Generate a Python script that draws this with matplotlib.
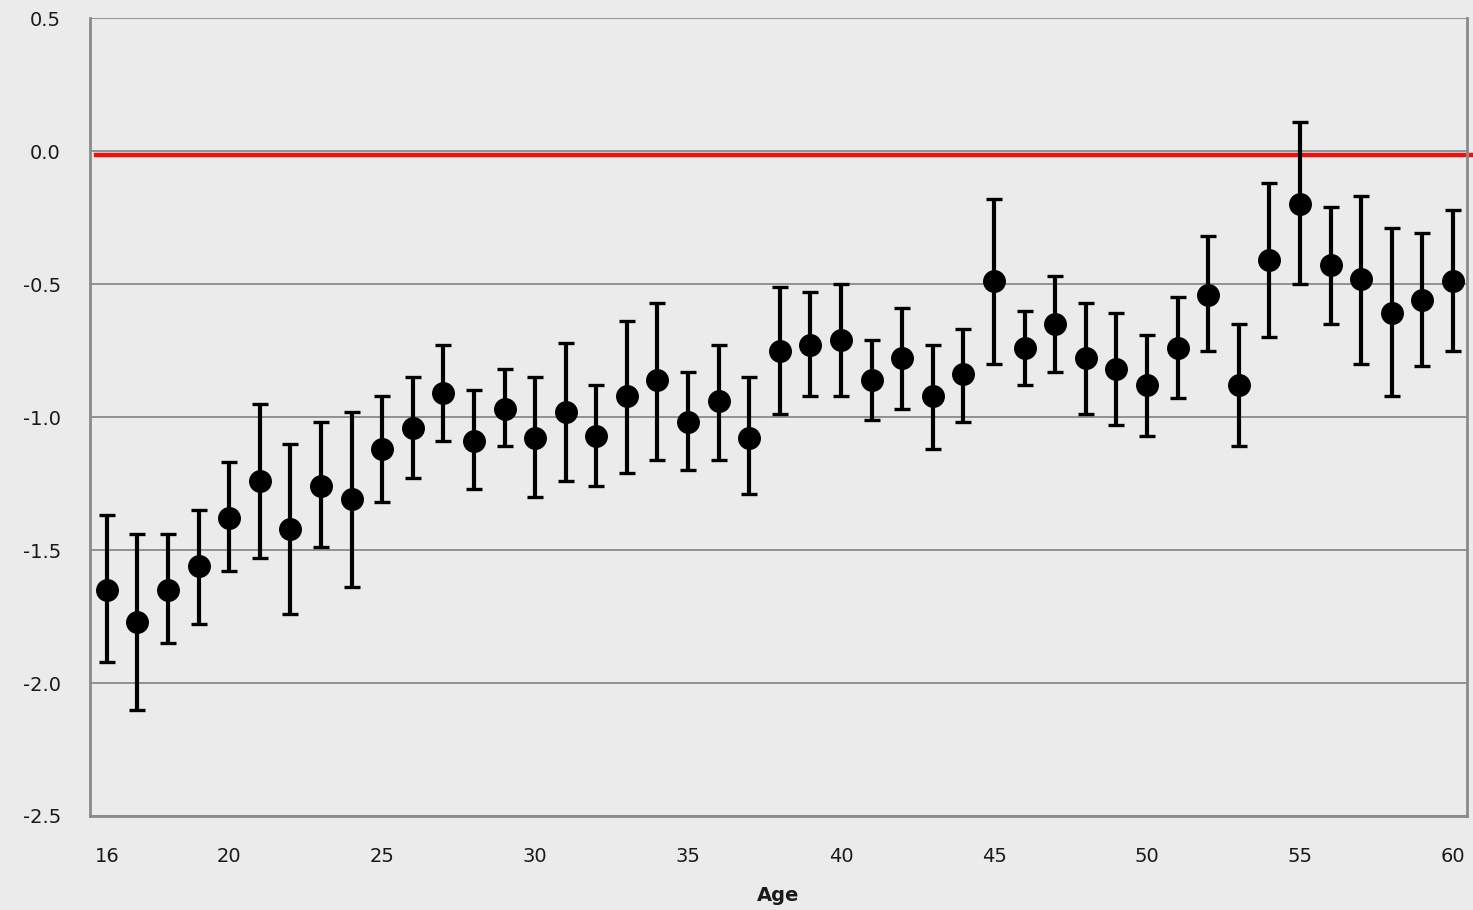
import matplotlib
matplotlib.use("Agg")
import matplotlib.pyplot as plt
import numpy as np

ages = list(range(16, 61))
means = [-1.65, -1.77, -1.65, -1.56, -1.38, -1.24, -1.42, -1.26, -1.31, -1.12,
         -1.04, -0.91, -1.09, -0.97, -1.08, -0.98, -1.07, -0.92, -0.86, -1.02,
         -0.94, -1.08, -0.75, -0.73, -0.71, -0.86, -0.78, -0.92, -0.84, -0.49,
         -0.74, -0.65, -0.78, -0.82, -0.88, -0.74, -0.54, -0.88, -0.41, -0.20,
         -0.43, -0.48, -0.61, -0.56, -0.49]
upper = [-1.37, -1.44, -1.44, -1.35, -1.17, -0.95, -1.10, -1.02, -0.98, -0.92,
         -0.85, -0.73, -0.90, -0.82, -0.85, -0.72, -0.88, -0.64, -0.57, -0.83,
         -0.73, -0.85, -0.51, -0.53, -0.50, -0.71, -0.59, -0.73, -0.67, -0.18,
         -0.60, -0.47, -0.57, -0.61, -0.69, -0.55, -0.32, -0.65, -0.12, 0.11,
         -0.21, -0.17, -0.29, -0.31, -0.22]
lower = [-1.92, -2.10, -1.85, -1.78, -1.58, -1.53, -1.74, -1.49, -1.64, -1.32,
         -1.23, -1.09, -1.27, -1.11, -1.30, -1.24, -1.26, -1.21, -1.16, -1.20,
         -1.16, -1.29, -0.99, -0.92, -0.92, -1.01, -0.97, -1.12, -1.02, -0.80,
         -0.88, -0.83, -0.99, -1.03, -1.07, -0.93, -0.75, -1.11, -0.70, -0.50,
         -0.65, -0.80, -0.92, -0.81, -0.75]
xticks = [16, 20, 25, 30, 35, 40, 45, 50, 55, 60]
yticks = [-2.5, -2.0, -1.5, -1.0, -0.5, 0.0, 0.5]
ref_level = -0.015

bg = "#ebebeb"
fig = plt.figure(figsize=(14.73, 9.10), dpi=100, facecolor=bg)
ax = fig.add_axes([0.0611, 0.1033, 0.9348, 0.8769], facecolor=bg)

means_a = np.array(means)
yerr = [means_a - np.array(lower), np.array(upper) - means_a]

for y in yticks:
    ax.axhline(y, color="#8a8a8a", lw=1.3, zorder=1)

ax.axhline(ref_level, xmin=0.004, xmax=1.01, color="#ee1111", lw=3.2,
           zorder=2, clip_on=False)

ax.errorbar(ages, means, yerr=yerr, fmt="o", color="black", ms=15.5,
            elinewidth=3, capsize=6, capthick=2.4, zorder=3)

ax.set_xlim(15.45, 60.46)
ax.set_ylim(-2.5, 0.5)
ax.set_xticks(xticks)
ax.set_yticks(yticks)
ax.set_yticklabels([f"{v:.1f}" for v in yticks])
ax.tick_params(length=0, labelsize=14, colors="#1a1a1a")
ax.tick_params(axis="x", pad=22)
ax.tick_params(axis="y", pad=21)
ax.set_xlabel("Age", fontsize=14, fontweight="bold", color="#1a1a1a", labelpad=15)

for side in ["left", "bottom", "right"]:
    ax.spines[side].set_color("#8a8a8a")
    ax.spines[side].set_linewidth(2)
ax.spines["top"].set_visible(False)

fig.savefig("out.png", dpi=100, facecolor=bg)
